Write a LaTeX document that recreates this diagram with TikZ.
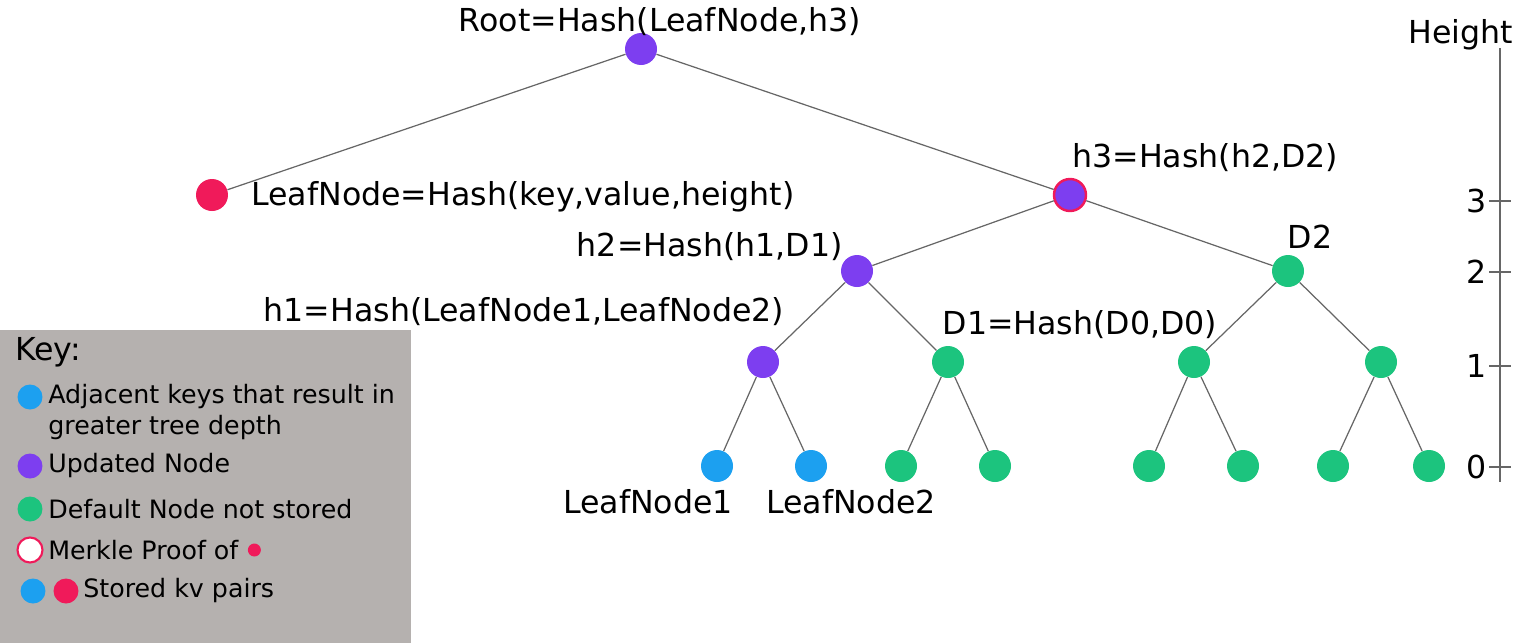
\documentclass[tikz,border=0pt]{standalone}
\usepackage{fontspec}
\setmainfont{DejaVu Sans}
\usetikzlibrary{positioning}
\definecolor{updpurple}{RGB}{125,62,240}
\definecolor{dfltgreen}{RGB}{28,196,126}
\definecolor{adjblue}{RGB}{28,160,240}
\definecolor{kvred}{RGB}{240,26,90}
\definecolor{keygray}{RGB}{181,177,175}

\begin{document}
\begin{tikzpicture}[x=0.02cm, y=-0.02cm, font=\fontsize{18}{21}\selectfont]
  \tikzstyle{dot}=[circle, minimum size=0.64cm, inner sep=0pt]
  \tikzstyle{upd}=[dot, fill=updpurple]
  \tikzstyle{dflt}=[dot, fill=dfltgreen]
  \tikzstyle{adj}=[dot, fill=adjblue]
  \tikzstyle{kv}=[dot, fill=kvred]
  \tikzstyle{proof}=[upd, draw=kvred, line width=1.4pt]
  \tikzstyle{edge}=[draw=black!60, line width=0.7pt]
  \tikzstyle{lbl}=[inner sep=0pt]
  \tikzstyle{keydot}=[circle, minimum size=0.5cm, inner sep=0pt]
  \tikzstyle{keytxt}=[inner sep=0pt, anchor=west, font=\fontsize{14.4}{17}\selectfont]

  \useasboundingbox (0,0) rectangle (1531,643);

  % Baum
  \node[upd] (root) at (641,49) {};
  \node[kv] (leaf) at (212,195) {};
  \node[proof] (h3) at (1070,195) {};
  \node[upd] (h2) at (857,271) {};
  \node[dflt] (d2) at (1288,271) {};
  \node[upd] (h1) at (763,362) {};
  \node[dflt] (d1) at (948,362) {};
  \node[dflt] (d1b) at (1194,362) {};
  \node[dflt] (d1c) at (1381,362) {};
  \node[adj] (ln1) at (717,466) {};
  \node[adj] (ln2) at (811,466) {};
  \node[dflt] (d0a) at (901,466) {};
  \node[dflt] (d0b) at (995,466) {};
  \node[dflt] (d0c) at (1149,466) {};
  \node[dflt] (d0d) at (1243,466) {};
  \node[dflt] (d0e) at (1333,466) {};
  \node[dflt] (d0f) at (1429,466) {};

  \draw[edge] (root) -- (leaf);
  \draw[edge] (root) -- (h3);
  \draw[edge] (h3) -- (h2);
  \draw[edge] (h3) -- (d2);
  \draw[edge] (h2) -- (h1);
  \draw[edge] (h2) -- (d1);
  \draw[edge] (d2) -- (d1b);
  \draw[edge] (d2) -- (d1c);
  \draw[edge] (h1) -- (ln1);
  \draw[edge] (h1) -- (ln2);
  \draw[edge] (d1) -- (d0a);
  \draw[edge] (d1) -- (d0b);
  \draw[edge] (d1b) -- (d0c);
  \draw[edge] (d1b) -- (d0d);
  \draw[edge] (d1c) -- (d0e);
  \draw[edge] (d1c) -- (d0f);

  % Beschriftungen
  \node[lbl] (rootlbl) at (660,22) {Root=Hash(LeafNode,h3)};
  \node[lbl, anchor=west] (leaflbl) at (251,197) {LeafNode=Hash(key,value,height)};
  \node[lbl, anchor=west] (h3lbl) at (1072,158) {h3=Hash(h2,D2)};
  \node[lbl, anchor=east] (h2lbl) at (843,247) {h2=Hash(h1,D1)};
  \node[lbl] (d2lbl) at (1310,237) {D2};
  \node[lbl] (h1lbl) at (524,312) {h1=Hash(LeafNode1,LeafNode2)};
  \node[lbl] (d1lbl) at (1080,325) {D1=Hash(D0,D0)};
  \node[lbl] (ln1lbl) at (648,502) {LeafNode1};
  \node[lbl] (ln2lbl) at (851,502) {LeafNode2};

  % Hoehe
  \node[lbl] (hgt) at (1461,35) {Height};
  \draw[black!60, line width=0.7pt] (1500,48) -- (1500,482);
  \foreach \h/\y in {3/201, 2/272, 1/366, 0/467} {
    \draw[black!60, line width=0.7pt] (1489,\y) -- (1511,\y);
    \node[lbl, anchor=east] (tick\h) at (1487,\y) {\h};
  }

  % Legende
  \node[fill=keygray, minimum width=8.22cm, minimum height=6.26cm, inner sep=0pt, anchor=north west] (keybox) at (0,330) {};
  \node[lbl, anchor=west, font=\fontsize{18}{21}\selectfont] (keyttl) at (15,352) {Key:};
  \node[keydot, fill=adjblue] (kadj) at (30,397) {};
  \node[keytxt] (kadjtxt) at (48,397) {Adjacent keys that result in};
  \node[keytxt] (kadjtxt2) at (48,428) {greater tree depth};
  \node[keydot, fill=updpurple] (kupd) at (30,466) {};
  \node[keytxt] (kupdtxt) at (48,466) {Updated Node};
  \node[keydot, fill=dfltgreen] (kdflt) at (30,509) {};
  \node[keytxt] (kdflttxt) at (48,509) {Default Node not stored};
  \node[keydot, fill=white, draw=kvred, line width=1.2pt] (kproof) at (30,550) {};
  \node[keytxt] (kprooftxt) at (48,550) {Merkle Proof of};
  \node[circle, fill=kvred, minimum size=0.26cm, inner sep=0pt, right=5pt of kprooftxt] (kproofdot) {};
  \node[keydot, fill=adjblue] (kkv1) at (33,591) {};
  \node[keydot, fill=kvred] (kkv2) at (66,591) {};
  \node[keytxt] (kkvtxt) at (83,591) {Stored kv pairs};
\end{tikzpicture}
\end{document}
